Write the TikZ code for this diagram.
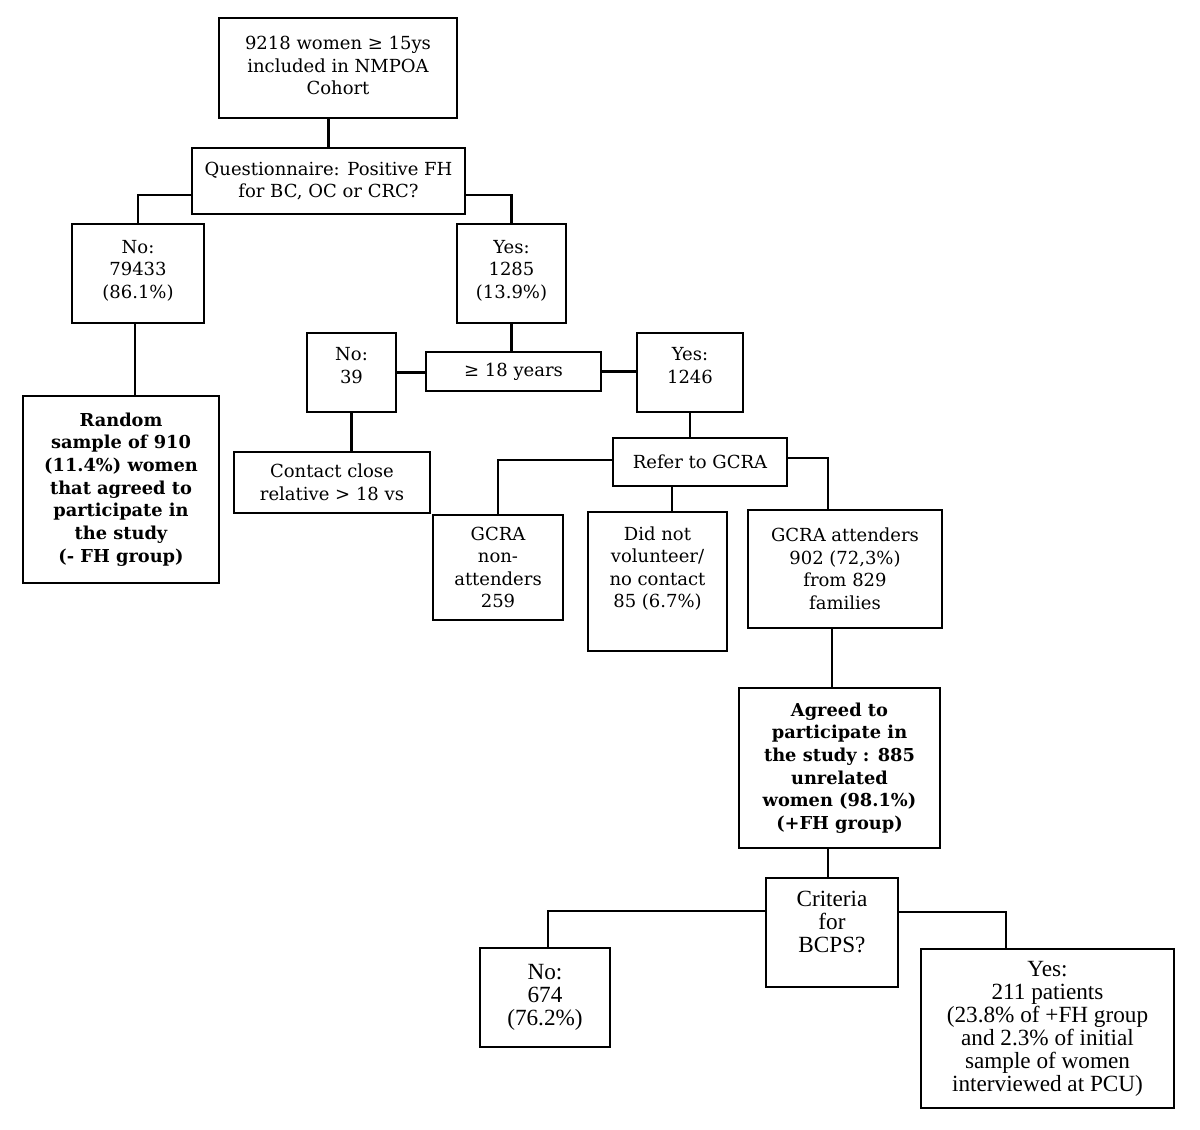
\documentclass[tikz,border=0pt]{standalone}
\usepackage{fontspec}
\setmainfont{DejaVu Serif}
\newfontfamily\timesfont{Liberation Serif}
\usepackage{tikz}
\usetikzlibrary{calc,positioning}
\tikzset{
  box/.style  = {draw, line width=1.2pt, align=center, inner sep=0pt,
                 font=\fontsize{9}{11.25}\selectfont},
  bbox/.style = {box, font=\fontsize{8.9}{11.35}\selectfont\bfseries},
  tbox/.style = {box, font=\fontsize{11.6}{11.5}\selectfont\timesfont},
  sz/.style 2 args = {minimum width=#1*0.5pt, minimum height=#2*0.5pt},
  wire/.style = {line width=1.2pt},
}

\begin{document}
\begin{tikzpicture}[x=0.5pt,y=-0.5pt]
  \useasboundingbox (0,0) rectangle (1200,1130);
  % top of the tree
  \node[box,sz={238}{100}] (cohort) at (338,68) {9218 women ≥ 15ys\\included in NMPOA\\Cohort\\[-9pt]};
  \node[box,sz={273}{66}] (quest) at (328.5,181) {Questionnaire: Positive FH\\for BC, OC or CRC?};
  \node[box,sz={132}{99}] (fhno) at (138,273.5) {No:\\79433\\(86.1\%)\\[-7pt]};
  \node[box,sz={109}{99}] (fhyes) at (511.5,273.5) {Yes:\\1285\\(13.9\%)\\[-7pt]};
  \node[bbox,sz={196}{187}] (random) at (121,489.5) {Random\\sample of 910\\(11.4\%) women\\that agreed to\\participate in\\the study\\(- FH group)};
  % age split
  \node[box,sz={175}{39}] (age) at (513.5,371.5) {≥ 18 years};
  \node[box,sz={89}{79}] (ageno) at (351.5,372.5) {No:\\39\\[-4pt]};
  \node[box,sz={106}{79}] (ageyes) at (690,372.5) {Yes:\\1246\\[-4pt]};
  \node[box,sz={196}{61}] (contact) at (332,482.5) {Contact close\\relative > 18 vs};
  % referral
  \node[box,sz={174}{48}] (refer) at (700,462) {Refer to GCRA};
  \node[box,sz={130}{105}] (nonatt) at (498,567.5) {GCRA\\non-\\attenders\\259};
  \node[box,sz={139}{139}] (novol) at (657.5,581.5) {Did not\\volunteer/\\no contact\\85 (6.7\%)\\[3pt]};
  \node[box,sz={194}{118}] (attend) at (845,569) {GCRA attenders\\902 (72,3\%)\\from 829\\families};
  \node[bbox,sz={201}{160}] (agreed) at (839.5,768) {Agreed to\\participate in\\the study : 885\\unrelated\\women (98.1\%)\\(+FH group)};
  % BCPS criteria
  \node[tbox,sz={132}{109}] (crit) at (832,932.5) {Criteria\\for\\BCPS?\\[-1pt]};
  \node[tbox,sz={130}{99}] (bcno) at (545,997.5) {No:\\674\\(76.2\%)};
  \node[tbox,sz={253}{159}] (bcyes) at (1047.5,1028.5) {Yes:\\211 patients\\(23.8\% of +FH group\\and 2.3\% of initial\\sample of women\\interviewed at PCU)};

  \draw[wire] (quest.north) -- (quest.north |- cohort.south);
  \draw[wire] ($(quest.west)+(0,14)$) -| (fhno.north);
  \draw[wire] ($(quest.east)+(0,14)$) -| (fhyes.north);
  \draw[wire] ($(fhno.south)+(-3,0)$) -- ($(fhno.south |- random.north)+(-3,0)$);
  \draw[wire] (fhyes.south) -- (fhyes.south |- age.north);
  \draw[wire] (ageno.east) -- (ageno.east -| age.west);
  \draw[wire] (age.east) -- (age.east -| ageyes.west);
  \draw[wire] (ageno.south) -- (ageno.south |- contact.north);
  \draw[wire] (ageyes.south) -- (ageyes.south |- refer.north);
  \draw[wire] ($(refer.west)+(0,-2)$) -| (nonatt.north);
  \draw[wire] ($(novol.north)+(14.5,0)$) -- ($(novol.north |- refer.south)+(14.5,0)$);
  \draw[wire] ($(refer.east)+(0,-4)$) -| ($(attend.north)+(-17,0)$);
  \draw[wire] ($(attend.south)+(-13,0)$) -- ($(attend.south |- agreed.north)+(-13,0)$);
  \draw[wire] ($(crit.north)+(-4,0)$) -- ($(crit.north |- agreed.south)+(-4,0)$);
  \draw[wire] ($(crit.west)+(0,-21.5)$) -| ($(bcno.north)+(3,0)$);
  \draw[wire] ($(crit.east)+(0,-20.5)$) -| ($(bcyes.north)+(-41.5,0)$);
\end{tikzpicture}
\end{document}
